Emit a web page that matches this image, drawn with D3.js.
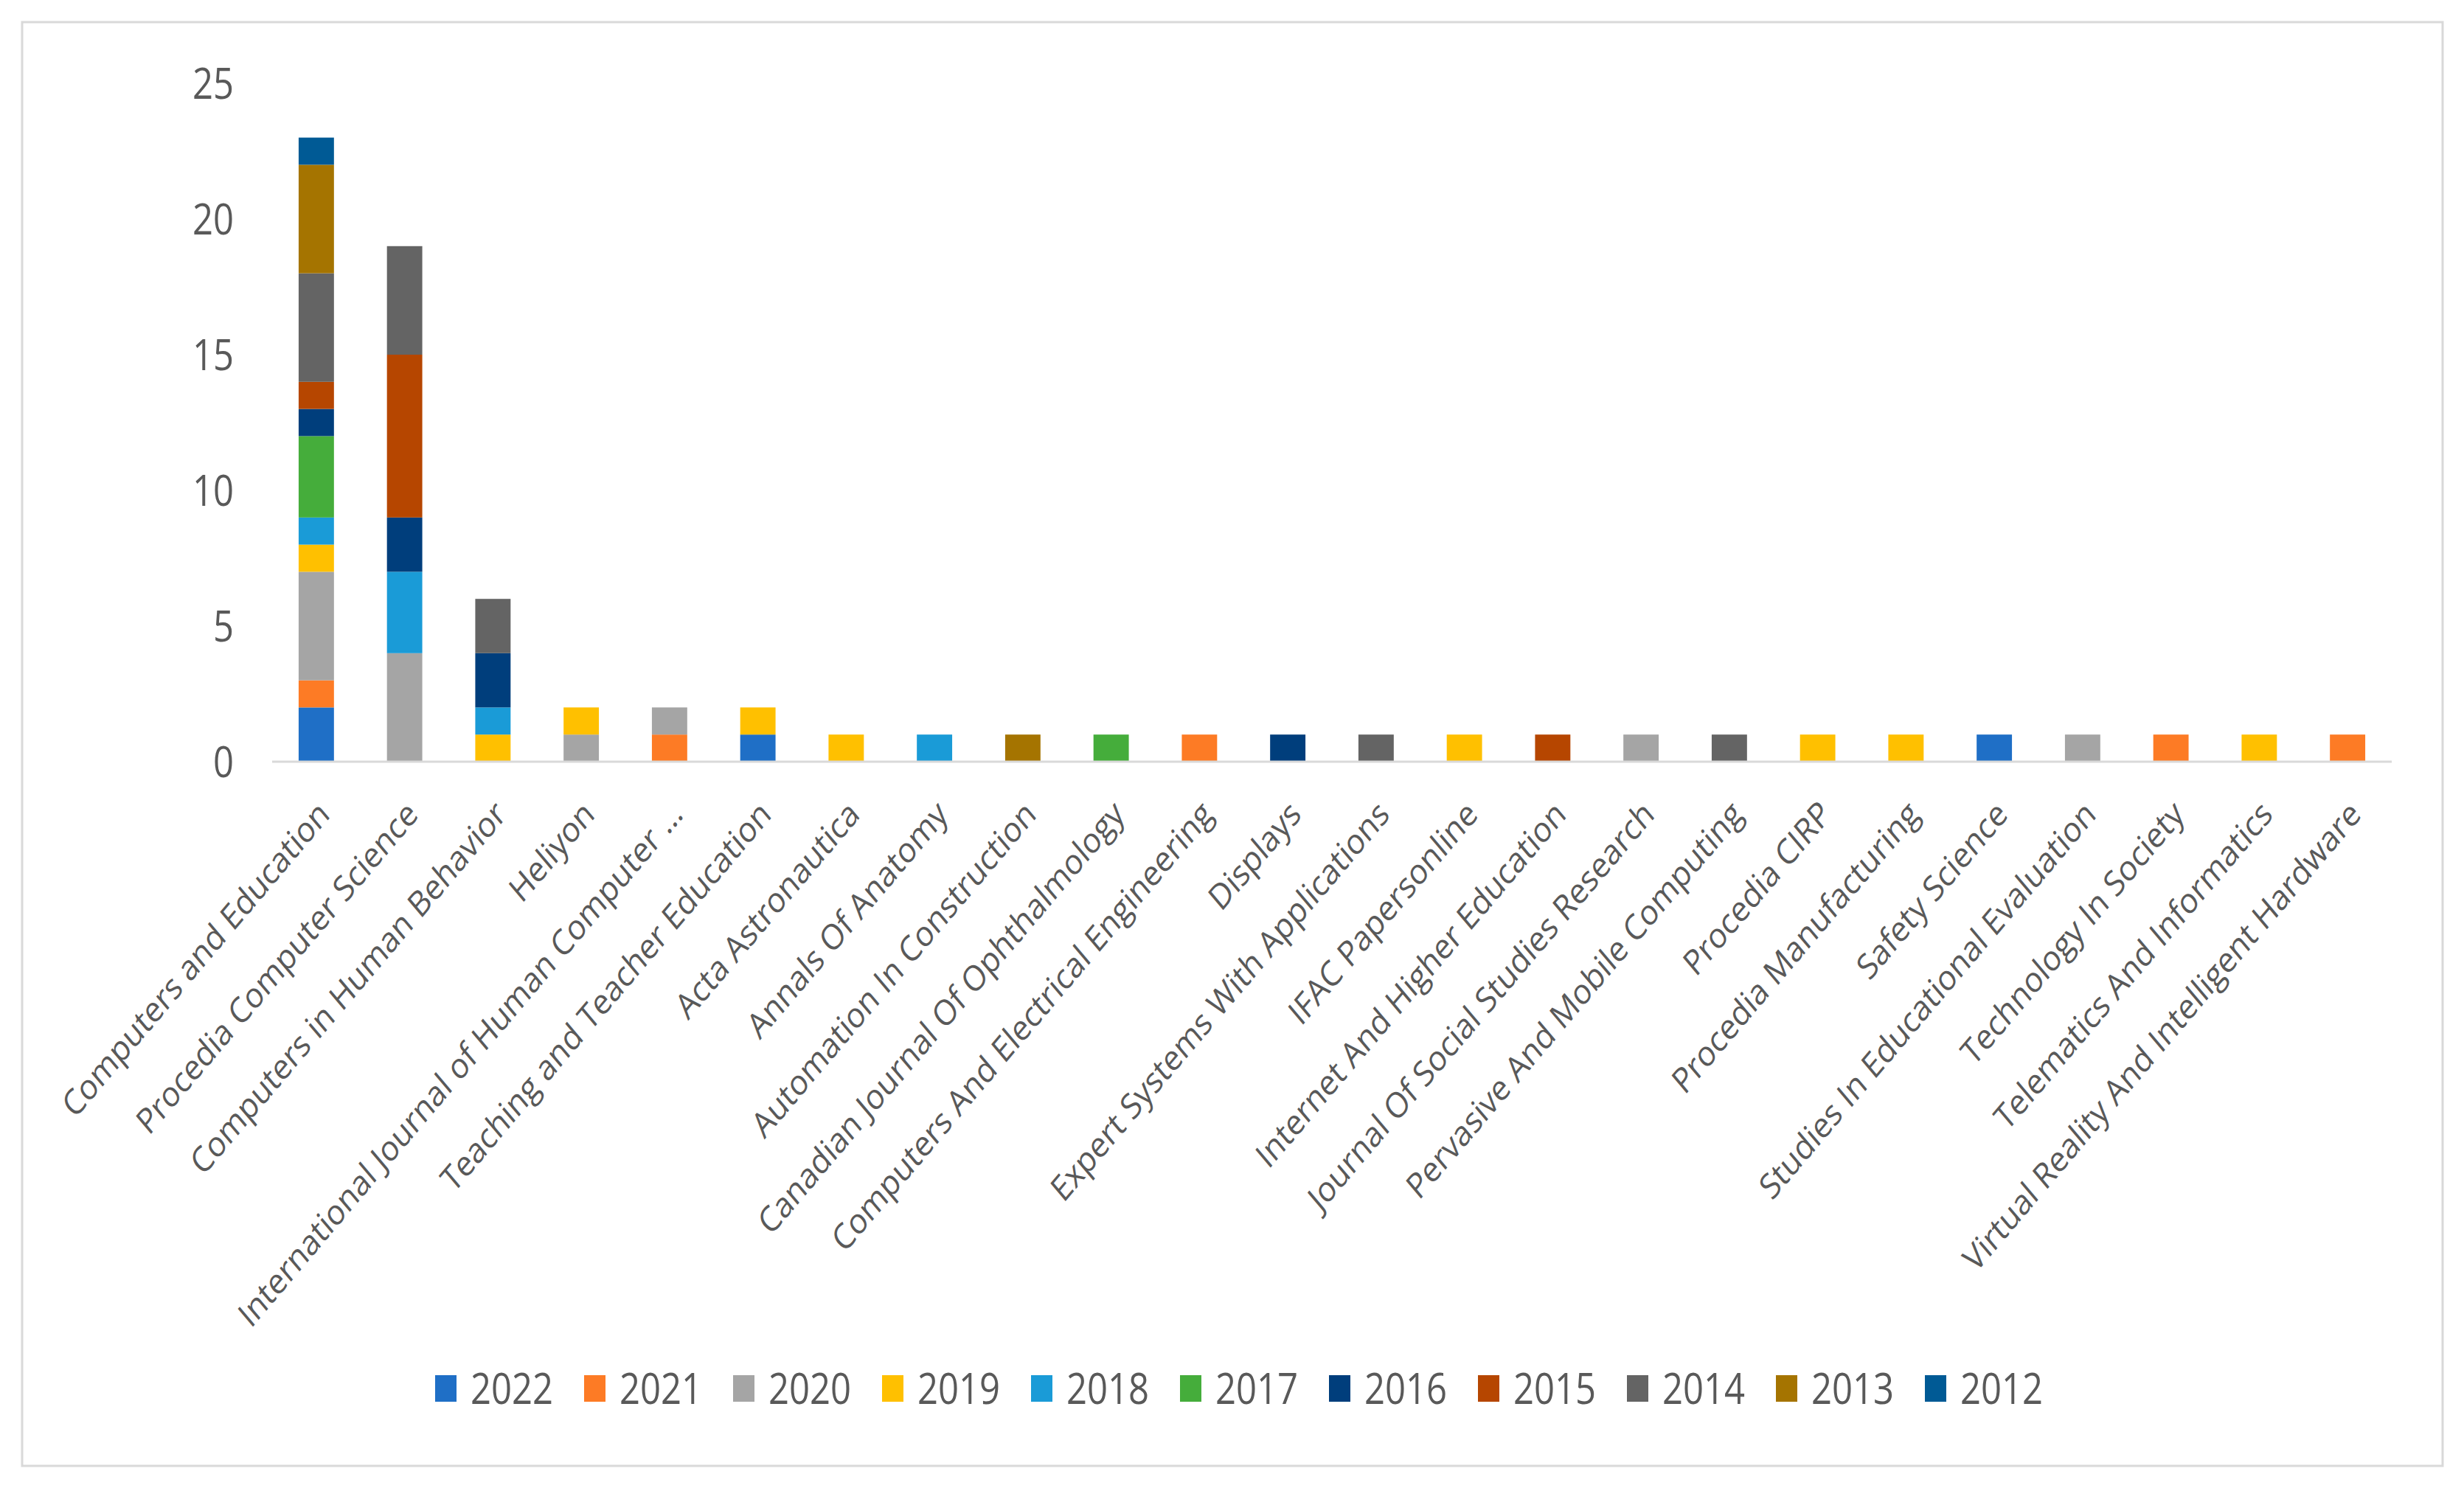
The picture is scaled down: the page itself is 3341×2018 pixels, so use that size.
<!DOCTYPE html>
<html>
<head>
<meta charset="utf-8">
<title>Journals by year</title>
<script src="https://cdnjs.cloudflare.com/ajax/libs/d3/7.8.5/d3.min.js"></script>
<style>
    body { margin: 0; background: #fff; }
    text { font-family: "Open Sans", sans-serif; fill: #595959; }
</style>
</head>
<body>
<div id="chart"></div>
<script>
// journals along the x axis
var journals = [
    "Computers and Education", "Procedia Computer Science", "Computers in Human Behavior",
    "Heliyon", "International Journal of Human Computer \u2026", "Teaching and Teacher Education",
    "Acta Astronautica", "Annals Of Anatomy", "Automation In Construction",
    "Canadian Journal Of Ophthalmology", "Computers And Electrical Engineering", "Displays",
    "Expert Systems With Applications", "IFAC Papersonline", "Internet And Higher Education",
    "Journal Of Social Studies Research", "Pervasive And Mobile Computing", "Procedia CIRP",
    "Procedia Manufacturing", "Safety Science", "Studies In Educational Evaluation",
    "Technology In Society", "Telematics And Informatics", "Virtual Reality And Intelligent Hardware"
];

var years = ["2022", "2021", "2020", "2019", "2018", "2017", "2016", "2015", "2014", "2013", "2012"];
var colors = ["#1f6fc6", "#fd7b25", "#a5a5a5", "#ffc000", "#1a9bd7", "#45ad3b",
              "#003e7c", "#b64600", "#646464", "#a57400", "#005a95"];

// one array per year, one value per journal
var y2022 = [2,0,0,0,0,1,0,0,0,0,0,0,0,0,0,0,0,0,0,1,0,0,0,0];
var y2021 = [1,0,0,0,1,0,0,0,0,0,1,0,0,0,0,0,0,0,0,0,0,1,0,1];
var y2020 = [4,4,0,1,1,0,0,0,0,0,0,0,0,0,0,1,0,0,0,0,1,0,0,0];
var y2019 = [1,0,1,1,0,1,1,0,0,0,0,0,0,1,0,0,0,1,1,0,0,0,1,0];
var y2018 = [1,3,1,0,0,0,0,1,0,0,0,0,0,0,0,0,0,0,0,0,0,0,0,0];
var y2017 = [3,0,0,0,0,0,0,0,0,1,0,0,0,0,0,0,0,0,0,0,0,0,0,0];
var y2016 = [1,2,2,0,0,0,0,0,0,0,0,1,0,0,0,0,0,0,0,0,0,0,0,0];
var y2015 = [1,6,0,0,0,0,0,0,0,0,0,0,0,0,1,0,0,0,0,0,0,0,0,0];
var y2014 = [4,4,2,0,0,0,0,0,0,0,0,0,1,0,0,0,1,0,0,0,0,0,0,0];
var y2013 = [4,0,0,0,0,0,0,0,1,0,0,0,0,0,0,0,0,0,0,0,0,0,0,0];
var y2012 = [1,0,0,0,0,0,0,0,0,0,0,0,0,0,0,0,0,0,0,0,0,0,0,0];

var yTicks = [0, 5, 10, 15, 20, 25];

var series = [y2022, y2021, y2020, y2019, y2018, y2017, y2016, y2015, y2014, y2013, y2012];

var rows = journals.map(function(j, i) {
    var row = { journal: j };
    years.forEach(function(y, k) { row[y] = series[k][i]; });
    return row;
});

var width = 3341, height = 2018;
var squeeze = 0.845;   // the original picture is narrowed horizontally

var svg = d3.select('#chart').append('svg')
    .attr('width', width)
    .attr('height', height);

// outer frame
svg.append('rect')
    .attr('x', 30).attr('y', 30)
    .attr('width', 3282).attr('height', 1958)
    .attr('fill', 'none')
    .attr('stroke', '#d9d9d9')
    .attr('stroke-width', 3);

var g = svg.append('g').attr('transform', 'scale(' + squeeze + ',1)');

var x = d3.scaleBand()
    .domain(journals)
    .range([369 / squeeze, 3243 / squeeze])
    .paddingInner(0.6)
    .paddingOuter(0.3);

var y = d3.scaleLinear().domain([0, 25]).range([1033, 113]);

var stack = d3.stack().keys(years)(rows);
var color = d3.scaleOrdinal().domain(years).range(colors);

g.selectAll('g.layer')
    .data(stack)
    .enter().append('g')
    .attr('class', 'layer')
    .attr('fill', function(d) { return color(d.key); })
    .selectAll('rect')
    .data(function(d) { return d; })
    .enter().append('rect')
    .filter(function(d) { return d[1] > d[0]; })
    .attr('x', function(d) { return x(d.data.journal); })
    .attr('y', function(d) { return y(d[1]); })
    .attr('width', x.bandwidth())
    .attr('height', function(d) { return y(d[0]) - y(d[1]); });

// baseline
g.append('line')
    .attr('x1', x.range()[0]).attr('x2', x.range()[1])
    .attr('y1', y(0)).attr('y2', y(0))
    .attr('stroke', '#d9d9d9')
    .attr('stroke-width', 3);

// y axis labels
g.selectAll('text.ytick')
    .data(yTicks)
    .enter().append('text')
    .attr('class', 'ytick')
    .attr('x', 317 / squeeze)
    .attr('y', function(d) { return y(d); })
    .attr('dy', '0.36em')
    .attr('text-anchor', 'end')
    .style('font-size', '58px')
    .text(function(d) { return d; });

// category labels
g.selectAll('text.cat')
    .data(journals)
    .enter().append('text')
    .attr('class', 'cat')
    .attr('text-anchor', 'end')
    .attr('transform', function(d) {
        return 'translate(' + (x(d) + x.bandwidth() / 2 + 12) + ',' + (y(0) + 62) + ') rotate(-45)';
    })
    .attr('dy', '0.35em')
    .style('font-size', '48px')
    .text(function(d) { return d; });

// legend
var legend = g.selectAll('g.leg')
    .data(years)
    .enter().append('g')
    .attr('class', 'leg')
    .attr('transform', function(d, i) { return 'translate(' + ((590 + i * 202) / squeeze) + ',1865)'; });

legend.append('rect')
    .attr('width', 29 / squeeze)
    .attr('height', 36)
    .attr('fill', function(d) { return color(d); });

legend.append('text')
    .attr('x', 48 / squeeze)
    .attr('y', 39)
    .style('font-size', '58px')
    .text(function(d) { return d; });
</script>
</body>
</html>
